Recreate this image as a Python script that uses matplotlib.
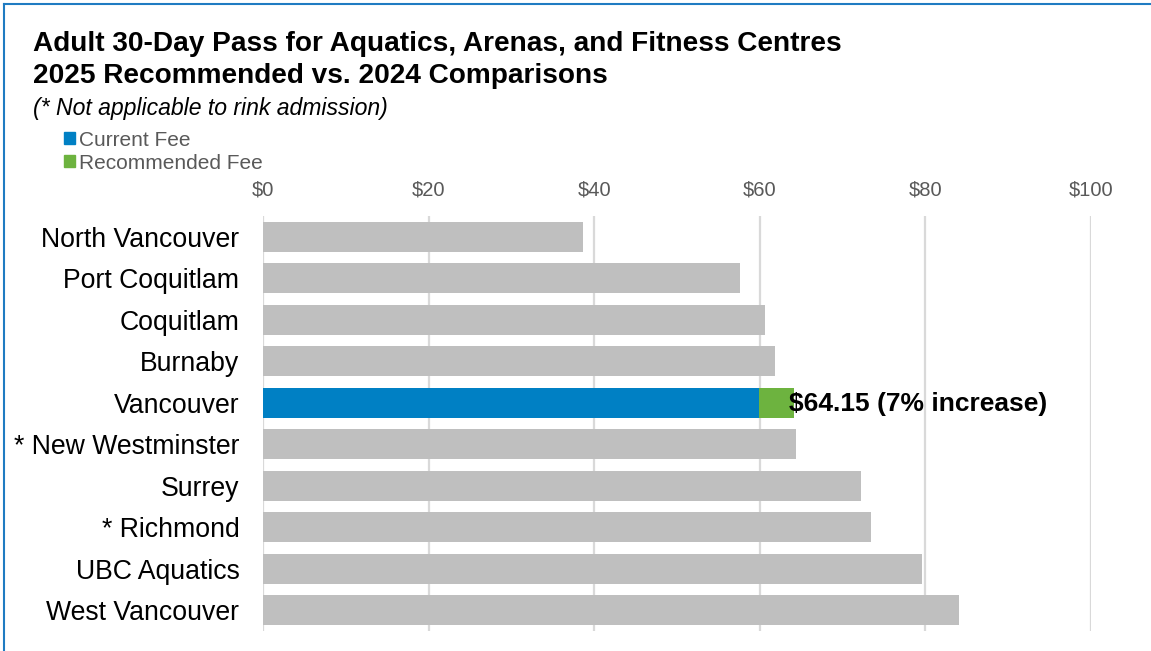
import matplotlib
matplotlib.use("Agg")
import matplotlib.pyplot as plt
from matplotlib.lines import Line2D
from matplotlib.patches import Rectangle

plt.rcParams['font.family'] = ['Liberation Sans', 'DejaVu Sans']

# Municipalities, top to bottom
cities = ["North Vancouver", "Port Coquitlam", "Coquitlam", "Burnaby", "Vancouver",
          "* New Westminster", "Surrey", "* Richmond", "UBC Aquatics", "West Vancouver"]
# Adult 30-day pass fee ($)
fees = [38.65, 57.6, 60.6, 61.85, 59.95, 64.4, 72.2, 73.4, 79.6, 84.1]
highlight = "Vancouver"
recommended_fee = 64.15
increase_pct = 7
ticks = [0, 20, 40, 60, 80, 100]

GREY = "#BFBFBF"
BLUE = "#0080C4"
GREEN = "#6DB33F"
TXT_GREY = "#595959"

W, H = 1151, 651
fig = plt.figure(figsize=(W / 100, H / 100), dpi=100)

ax = fig.add_axes([263 / W, 1 - 631 / H, 828 / W, 415 / H])
ypos = list(range(len(cities)))
for y, city, fee in zip(ypos, cities, fees):
    if city == highlight:
        ax.barh(y, fee, height=0.72, color=BLUE, zorder=3)
        ax.barh(y, recommended_fee - fee, left=fee, height=0.72, color=GREEN, zorder=3)
        ax.annotate(f"${recommended_fee:.2f} ({increase_pct}% increase)",
                    xy=(recommended_fee, y), xytext=(-4, -1), textcoords="offset points",
                    ha="left", va="center", fontsize=19, fontweight="bold", color="black",
                    zorder=5)
    else:
        ax.barh(y, fee, height=0.72, color=GREY, zorder=3)

ax.set_xlim(0, 100)
ax.set_ylim(len(cities) - 0.5, -0.5)
ax.set_xticks(ticks)
ax.set_xticklabels([f"${t}" for t in ticks])
ax.xaxis.tick_top()
ax.tick_params(axis="x", length=0, pad=12, labelsize=14.5, labelcolor=TXT_GREY)
ax.set_yticks(ypos)
ax.set_yticklabels(cities)
ax.tick_params(axis="y", length=0, pad=17, labelsize=19.2, labelcolor="black")
ax.grid(axis="x", color="#D9D9D9", linewidth=1.6, zorder=0)
for s in ax.spines.values():
    s.set_visible(False)

# Titles
fig.text(33 / W, 1 - 44 / H, "Adult 30-Day Pass for Aquatics, Arenas, and Fitness Centres",
         fontsize=20.2, fontweight="bold", ha="left", va="center")
fig.text(33 / W, 1 - 76 / H, "2025 Recommended vs. 2024 Comparisons",
         fontsize=20.2, fontweight="bold", ha="left", va="center")
fig.text(33 / W, 1 - 108 / H, "(* Not applicable to rink admission)",
         fontsize=16.6, fontstyle="italic", ha="left", va="center")

# Legend
for yy, col, lab in [(139, BLUE, "Current Fee"), (162, GREEN, "Recommended Fee")]:
    fig.patches.append(Rectangle((64 / W, 1 - (yy + 5) / H), 11 / W, 12 / H,
                                 transform=fig.transFigure, color=col))
    fig.text(79 / W, 1 - (yy + 1) / H, lab, fontsize=15, color=TXT_GREY,
             ha="left", va="center")

# Page frame
FRAME = "#1F7BC2"
fig.add_artist(Line2D([3.5 / W, 3.5 / W], [0, 1 - 4 / H], transform=fig.transFigure,
                      color=FRAME, linewidth=1.5))
fig.add_artist(Line2D([3.5 / W, 1], [1 - 4 / H, 1 - 4 / H], transform=fig.transFigure,
                      color=FRAME, linewidth=1.5))

fig.savefig("out.png", dpi=100)
